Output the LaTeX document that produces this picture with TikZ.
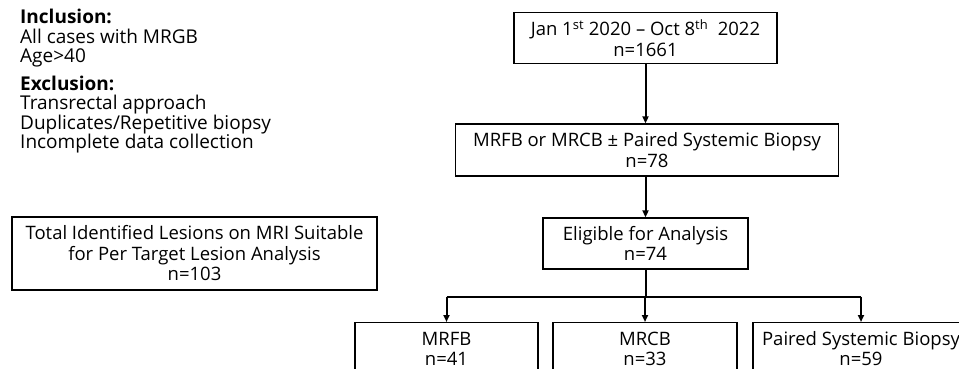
\documentclass[tikz,border=0pt]{standalone}
\usepackage{fontspec}
\setmainfont{Open Sans}
\usepackage{tikz}
\usetikzlibrary{arrows.meta,positioning,calc}

\begin{document}
\begin{tikzpicture}[x=1pt, y=-1pt,
  box/.style={draw, line width=1.3pt, align=center, inner sep=0pt, font=\fontsize{18.5}{20.5}\selectfont},
  flow/.style={line width=2pt, -{Triangle[length=7pt,width=6pt]}}]
\useasboundingbox (0,0) rectangle (959,369);
% criteria text on the left
\node[anchor=north west, align=left, inner sep=0pt, font=\fontsize{19}{19.5}\selectfont] (crit) at (20,9)
  {\textbf{Inclusion:}\\ All cases with MRGB\\ Age>40\\[8pt]
   \textbf{Exclusion:}\\ Transrectal approach\\ Duplicates/Repetitive biopsy\\ Incomplete data collection};
\node[box, minimum width=365pt, minimum height=73pt] (total) at (194.5,253.5)
  {Total Identified Lesions on MRI Suitable\\ for Per Target Lesion Analysis\\ n=103};
% main flow
\node[box, minimum width=263pt, minimum height=51pt] (period) at (645.5,38)
  {Jan 1\textsuperscript{st} 2020 – Oct 8\textsuperscript{th}\ \ 2022\\ n=1661};
\node[box, minimum width=383pt, minimum height=52pt] (biopsy) at (647,150)
  {MRFB or MRCB ± Paired Systemic Biopsy\\ n=78};
\node[box, minimum width=205pt, minimum height=51pt] (eligible) at (645.5,243.5)
  {Eligible for Analysis\\ n=74};
\foreach \n/\x/\w/\t/\k in {mrfb/446.5/183/MRFB/41, mrcb/645/184/MRCB/33, paired/861/216/Paired Systemic Biopsy/59}
  \node[box, anchor=north, minimum width=\w pt, minimum height=52pt] (\n) at (\x,322) {\t\\ n=\k};
\draw[flow] (period.south) -- (period.south |- biopsy.north);
\draw[flow] (biopsy.south -| eligible.north) -- (eligible.north);
\coordinate (split) at ($(eligible.south)+(0,27)$);
\draw[line width=2pt] (eligible.south) -- (split);
\draw[line width=2pt] (split -| mrfb.north) -- (split -| paired.north);
\foreach \n in {mrfb,mrcb,paired}
  \draw[flow] (split -| \n.north) -- (\n.north);
\end{tikzpicture}
\end{document}
